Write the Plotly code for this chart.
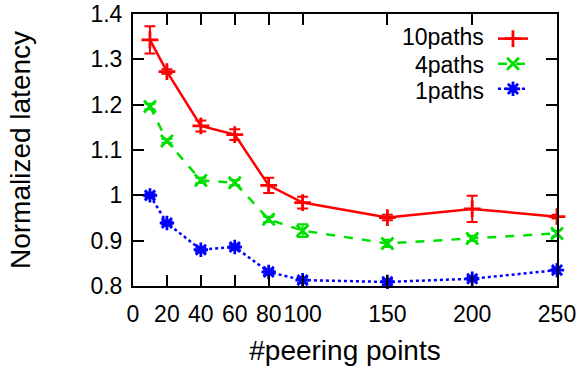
import plotly.graph_objects as go

x_vals = [10, 20, 40, 60, 80, 100, 150, 200, 250]
paths10 = [1.343, 1.273, 1.153, 1.134, 1.022, 0.984, 0.951, 0.970, 0.953]
paths10_err = [0.030, 0.005, 0.012, 0.012, 0.017, 0.013, 0.006, 0.029, 0.004]
paths4 = [1.196, 1.120, 1.033, 1.028, 0.947, 0.922, 0.894, 0.905, 0.916]
paths4_err = [0.006, 0.004, 0.006, 0.006, 0.006, 0.014, 0.008, 0.006, 0.006]
paths1 = [1.000, 0.939, 0.880, 0.886, 0.831, 0.813, 0.809, 0.816, 0.835]
paths1_err = [0.004, 0.004, 0.005, 0.005, 0.005, 0.006, 0.005, 0.004, 0.004]
series_names = ["10paths", "4paths", "1paths"]
x_ticks = [0, 20, 40, 60, 80, 100, 150, 200, 250]
y_ticks = [0.8, 0.9, 1.0, 1.1, 1.2, 1.3, 1.4]
y_tick_text = ["0.8", "0.9", "1", "1.1", "1.2", "1.3", "1.4"]

FONT = "Liberation Sans, Arial, Helvetica, sans-serif"

styles = [
    dict(color="#ff0000", dash="solid", symbol="cross-thin-open"),
    dict(color="#00e000", dash="dash", symbol="x-thin-open"),
    dict(color="#0000ff", dash="dot", symbol="asterisk-open"),
]

fig = go.Figure()
for ys, errs, st in zip([paths10, paths4, paths1], [paths10_err, paths4_err, paths1_err], styles):
    fig.add_trace(go.Scatter(
        x=x_vals, y=ys, mode="lines+markers", name=" ",
        line=dict(color=st["color"], width=2.5, dash=st["dash"]),
        marker=dict(symbol=st["symbol"], size=12, color=st["color"],
                    line=dict(color=st["color"], width=2.8)),
        error_y=dict(type="data", array=errs, visible=True, color=st["color"],
                     thickness=2, width=5.5),
        cliponaxis=False,
    ))

fig.update_layout(
    width=584, height=372,
    margin=dict(l=133, r=27, t=14, b=86),
    paper_bgcolor="white", plot_bgcolor="white",
    font=dict(family=FONT, size=23, color="black"),
    showlegend=True,
    legend=dict(x=0.849, y=0.974, xanchor="left", yanchor="top",
                bgcolor="rgba(0,0,0,0)", font=dict(size=17),
                itemwidth=30, tracegroupgap=0),
    xaxis=dict(range=[0, 250], tickvals=x_ticks, ticks="inside", ticklen=11,
               tickwidth=1.5, tickcolor="black", showline=True, linecolor="black",
               linewidth=2, mirror="ticks", showgrid=False, zeroline=False,
               ticklabelstandoff=6, tickangle=0, automargin=False,
               title=dict(text="#peering points", standoff=15),
               tickfont=dict(size=23)),
    yaxis=dict(range=[0.8, 1.4], tickvals=y_ticks, ticktext=y_tick_text,
               ticks="inside", ticklen=11, tickwidth=1.5, tickcolor="black",
               showline=True, linecolor="black", linewidth=2, mirror="ticks",
               showgrid=False, zeroline=False, ticklabelstandoff=4, automargin=False,
               title=dict(text="Normalized latency", standoff=52),
               tickfont=dict(size=23)),
)

legend_rows_y = [0.914, 0.812, 0.718]
for name, yy in zip(series_names, legend_rows_y):
    fig.add_annotation(text=name, xref="paper", yref="paper", x=0.833, y=yy,
                       xanchor="right", yanchor="middle", showarrow=False, height=24,
                       font=dict(size=23, family=FONT, color="black"))

fig.write_html("out.html")
